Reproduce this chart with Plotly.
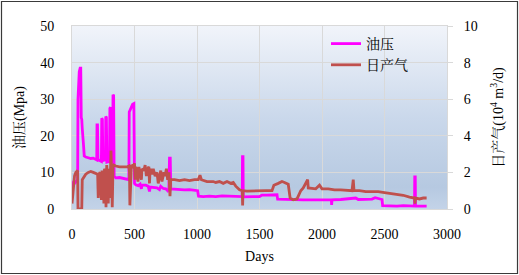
import base64
import plotly.graph_objects as go

# ---------------- data ----------------
pressure_days = [0, 5, 15, 25, 35, 45, 48, 52, 58, 65, 70, 74, 78, 82, 86, 92, 98, 110, 130, 150,
                 170, 190, 198, 200, 204, 208, 225, 235, 238, 243, 247, 262, 268, 270, 275, 279, 290,
                 300, 303, 308, 312, 325, 328, 333, 337, 350, 380, 410, 440, 455, 458, 470, 485, 495,
                 500, 510, 530, 545, 555, 560, 590, 610, 620, 625, 650, 680, 700, 710, 730, 750, 765,
                 775, 780, 786, 790, 820, 860, 900, 940, 980, 1005, 1012, 1050, 1100, 1150, 1200, 1250,
                 1300, 1350, 1362, 1364, 1368, 1370, 1400, 1450, 1500, 1520, 1560, 1600, 1640, 1645,
                 1700, 1750, 1800, 1850, 1900, 1950, 2000, 2050, 2075, 2077, 2080, 2150, 2200, 2250,
                 2270, 2290, 2350, 2400, 2425, 2450, 2480, 2485, 2550, 2600, 2650, 2700, 2740, 2742,
                 2746, 2748, 2800, 2837]
pressure_vals = [5.5, 7.0, 7.5, 7.2, 7.6, 7.4, 30, 37, 37.5, 38.5, 38.5, 25, 24.5, 22, 18, 17.5, 14.5,
                 14.2, 14.0, 13.8, 13.9, 13.5, 13.4, 23.0, 23.0, 13.5, 13.2, 13.0, 24.8, 24.5, 13.2,
                 13.5, 13.2, 25.3, 25.0, 12.8, 13.0, 13.0, 27.5, 27.8, 12.5, 12.0, 31.2, 31.0, 9.0, 8.5,
                 8.6, 8.4, 8.3, 8.0, 26.5, 27.5, 28.6, 28.8, 7.0, 6.6, 6.4, 6.8, 5.5, 6.5, 6.5, 6.2,
                 4.8, 6.0, 6.0, 5.8, 5.3, 6.2, 5.6, 5.5, 5.0, 5.6, 13.9, 13.9, 5.5, 5.4, 5.3, 5.2, 5.3,
                 5.1, 5.0, 3.5, 3.4, 3.5, 3.4, 3.6, 3.5, 3.6, 3.5, 3.4, 14.3, 14.3, 3.3, 3.4, 3.4, 3.4,
                 3.8, 3.8, 3.9, 3.9, 2.7, 2.6, 2.6, 2.5, 2.5, 2.5, 2.5, 2.4, 2.5, 2.5, 1.1, 2.5, 2.6,
                 2.7, 3.0, 3.0, 2.6, 2.7, 2.7, 3.1, 2.9, 2.6, 0.9, 0.8, 0.8, 0.9, 0.8, 0.8, 8.8, 8.8,
                 0.8, 0.8, 0.8]

gas_days = [0, 10, 20, 30, 40, 45, 48, 55, 70, 78, 82, 90, 110, 130, 150, 170, 190, 205, 210, 215,
            225, 235, 240, 250, 255, 260, 268, 272, 278, 285, 290, 296, 302, 306, 312, 316, 322, 328,
            335, 350, 380, 410, 440, 455, 460, 463, 468, 475, 490, 500, 505, 510, 520, 528, 535, 545,
            555, 560, 575, 585, 595, 605, 615, 620, 625, 640, 650, 665, 680, 690, 700, 710, 720, 735,
            745, 755, 765, 775, 784, 790, 820, 860, 900, 940, 980, 1010, 1024, 1035, 1080, 1130, 1150,
            1180, 1210, 1240, 1270, 1290, 1310, 1340, 1362, 1365, 1368, 1400, 1450, 1500, 1550, 1600,
            1615, 1650, 1680, 1700, 1730, 1745, 1770, 1800, 1830, 1850, 1885, 1890, 1950, 1980, 2000,
            2050, 2100, 2150, 2200, 2240, 2250, 2256, 2300, 2350, 2400, 2450, 2500, 2550, 2600, 2650,
            2700, 2740, 2744, 2748, 2780, 2810, 2837]
gas_vals = [0.3, 1.2, 1.8, 2.0, 2.1, 2.1, 0.0, 0.0, 0.0, 0.0, 1.6, 1.7, 1.9, 2.0, 2.05, 2.0, 1.95, 1.9,
            0.6, 1.9, 2.0, 0.5, 2.1, 1.8, 0.3, 2.2, 2.0, 0.1, 2.4, 1.6, 0.3, 2.2, 0.6, 2.5, 3.2, 2.0,
            0.1, 2.3, 2.4, 2.35, 2.3, 2.3, 2.3, 2.35, 2.0, 0.2, 1.8, 2.4, 2.3, 2.5, 1.6, 2.3, 2.1, 1.5,
            2.3, 2.0, 1.6, 2.2, 2.1, 2.4, 1.8, 2.2, 2.3, 1.4, 2.2, 1.9, 2.2, 1.8, 2.0, 1.4, 1.9, 2.1,
            1.5, 2.0, 1.8, 2.2, 1.6, 2.0, 0.7, 1.6, 1.6, 1.55, 1.6, 1.55, 1.6, 1.6, 1.85, 1.6, 1.5,
            1.5, 1.45, 1.5, 1.4, 1.5, 1.4, 1.45, 1.25, 1.05, 1.0, 0.2, 1.0, 0.98, 1.0, 0.98, 1.0, 1.0,
            1.3, 1.4, 1.5, 1.45, 1.35, 0.6, 0.5, 0.55, 1.0, 1.15, 1.6, 1.15, 1.1, 1.3, 1.1, 1.1, 1.05,
            1.05, 1.0, 1.0, 1.6, 1.0, 1.0, 0.95, 0.95, 0.95, 0.9, 0.85, 0.8, 0.75, 0.65, 0.6, 0.3,
            0.6, 0.55, 0.6, 0.6]

x_ticks = [0, 500, 1000, 1500, 2000, 2500, 3000]
left_ticks = [0, 10, 20, 30, 40, 50]
right_ticks = [0, 2, 4, 6, 8, 10]

# ---------------- figure ----------------
SERIF = "Times New Roman, Liberation Serif, Noto Serif CJK SC, Noto Sans CJK SC, serif"
GRID = "#d9d9d9"

fig = go.Figure()
fig.add_trace(go.Scatter(x=pressure_days, y=pressure_vals, name="油压", mode="lines",
                         line=dict(color="#ff00ff", width=2.8), yaxis="y"))
fig.add_trace(go.Scatter(x=gas_days, y=gas_vals, name="日产气", mode="lines",
                         line=dict(color="#c0504d", width=2.8), yaxis="y2"))

svg = ('<svg xmlns="http://www.w3.org/2000/svg" width="10" height="100" preserveAspectRatio="none">'
       '<defs><linearGradient id="g" x1="0" y1="0" x2="0" y2="1">'
       '<stop offset="0" stop-color="#f1f4fa"/><stop offset="0.5" stop-color="#cad8eb"/>'
       '<stop offset="0.88" stop-color="#b6c9e1"/><stop offset="1" stop-color="#c3d3e8"/>'
       '</linearGradient></defs><rect width="10" height="100" fill="url(#g)"/></svg>')
src = "data:image/svg+xml;base64," + base64.b64encode(svg.encode()).decode()

W, H = 519, 275
L, R, T, B = 72, 72, 26, 66
pw, ph = W - L - R, H - T - B

fig.update_layout(
    width=W, height=H,
    margin=dict(l=L, r=R, t=T, b=B),
    paper_bgcolor="white", plot_bgcolor="rgba(0,0,0,0)",
    font=dict(family=SERIF, size=14, color="#000000"),
    showlegend=True,
    legend=dict(x=(326 - L) / pw, y=(209 - 28) / ph, xanchor="left", yanchor="top",
                bgcolor="rgba(0,0,0,0)", font=dict(size=14, family=SERIF)),
    images=[dict(source=src, xref="paper", yref="paper", x=0, y=1, sizex=1, sizey=1,
                 sizing="stretch", xanchor="left", yanchor="top", layer="below")],
    xaxis=dict(range=[0, 3000], tickvals=x_ticks, showgrid=True, gridcolor=GRID, gridwidth=1,
               showline=True, linecolor=GRID, linewidth=1, mirror=True, zeroline=False,
               ticks="", ticklabelstandoff=12,
               title=dict(text="Days", standoff=10, font=dict(size=14))),
    yaxis=dict(range=[0, 50], tickvals=left_ticks, showgrid=True, gridcolor=GRID, gridwidth=1,
               showline=True, linecolor=GRID, linewidth=1, zeroline=False, ticks="",
               ticklabelstandoff=14,
               title=dict(text="油压(Mpa)", standoff=12, font=dict(size=14))),
    yaxis2=dict(range=[0, 10], tickvals=right_ticks, overlaying="y", side="right",
                showgrid=False, showline=True, linecolor=GRID, linewidth=1, zeroline=False,
                ticks="outside", ticklen=5, tickcolor=GRID, ticklabelstandoff=8,
                title=dict(text="日产气(10<sup>4</sup> m<sup>3</sup>/d)", standoff=16,
                           font=dict(size=14))),
    shapes=[dict(type="rect", xref="paper", yref="paper",
                 x0=(1.5 - L) / pw, x1=(517.5 - L) / pw,
                 y0=(209 - 273.5) / ph, y1=(209 - 1.5) / ph,
                 line=dict(color="#3a3a3a", width=1.2), fillcolor="rgba(0,0,0,0)", layer="above")],
)

fig.write_html("out.html", config={"displayModeBar": False},
               post_script="document.body.style.margin='0';")
